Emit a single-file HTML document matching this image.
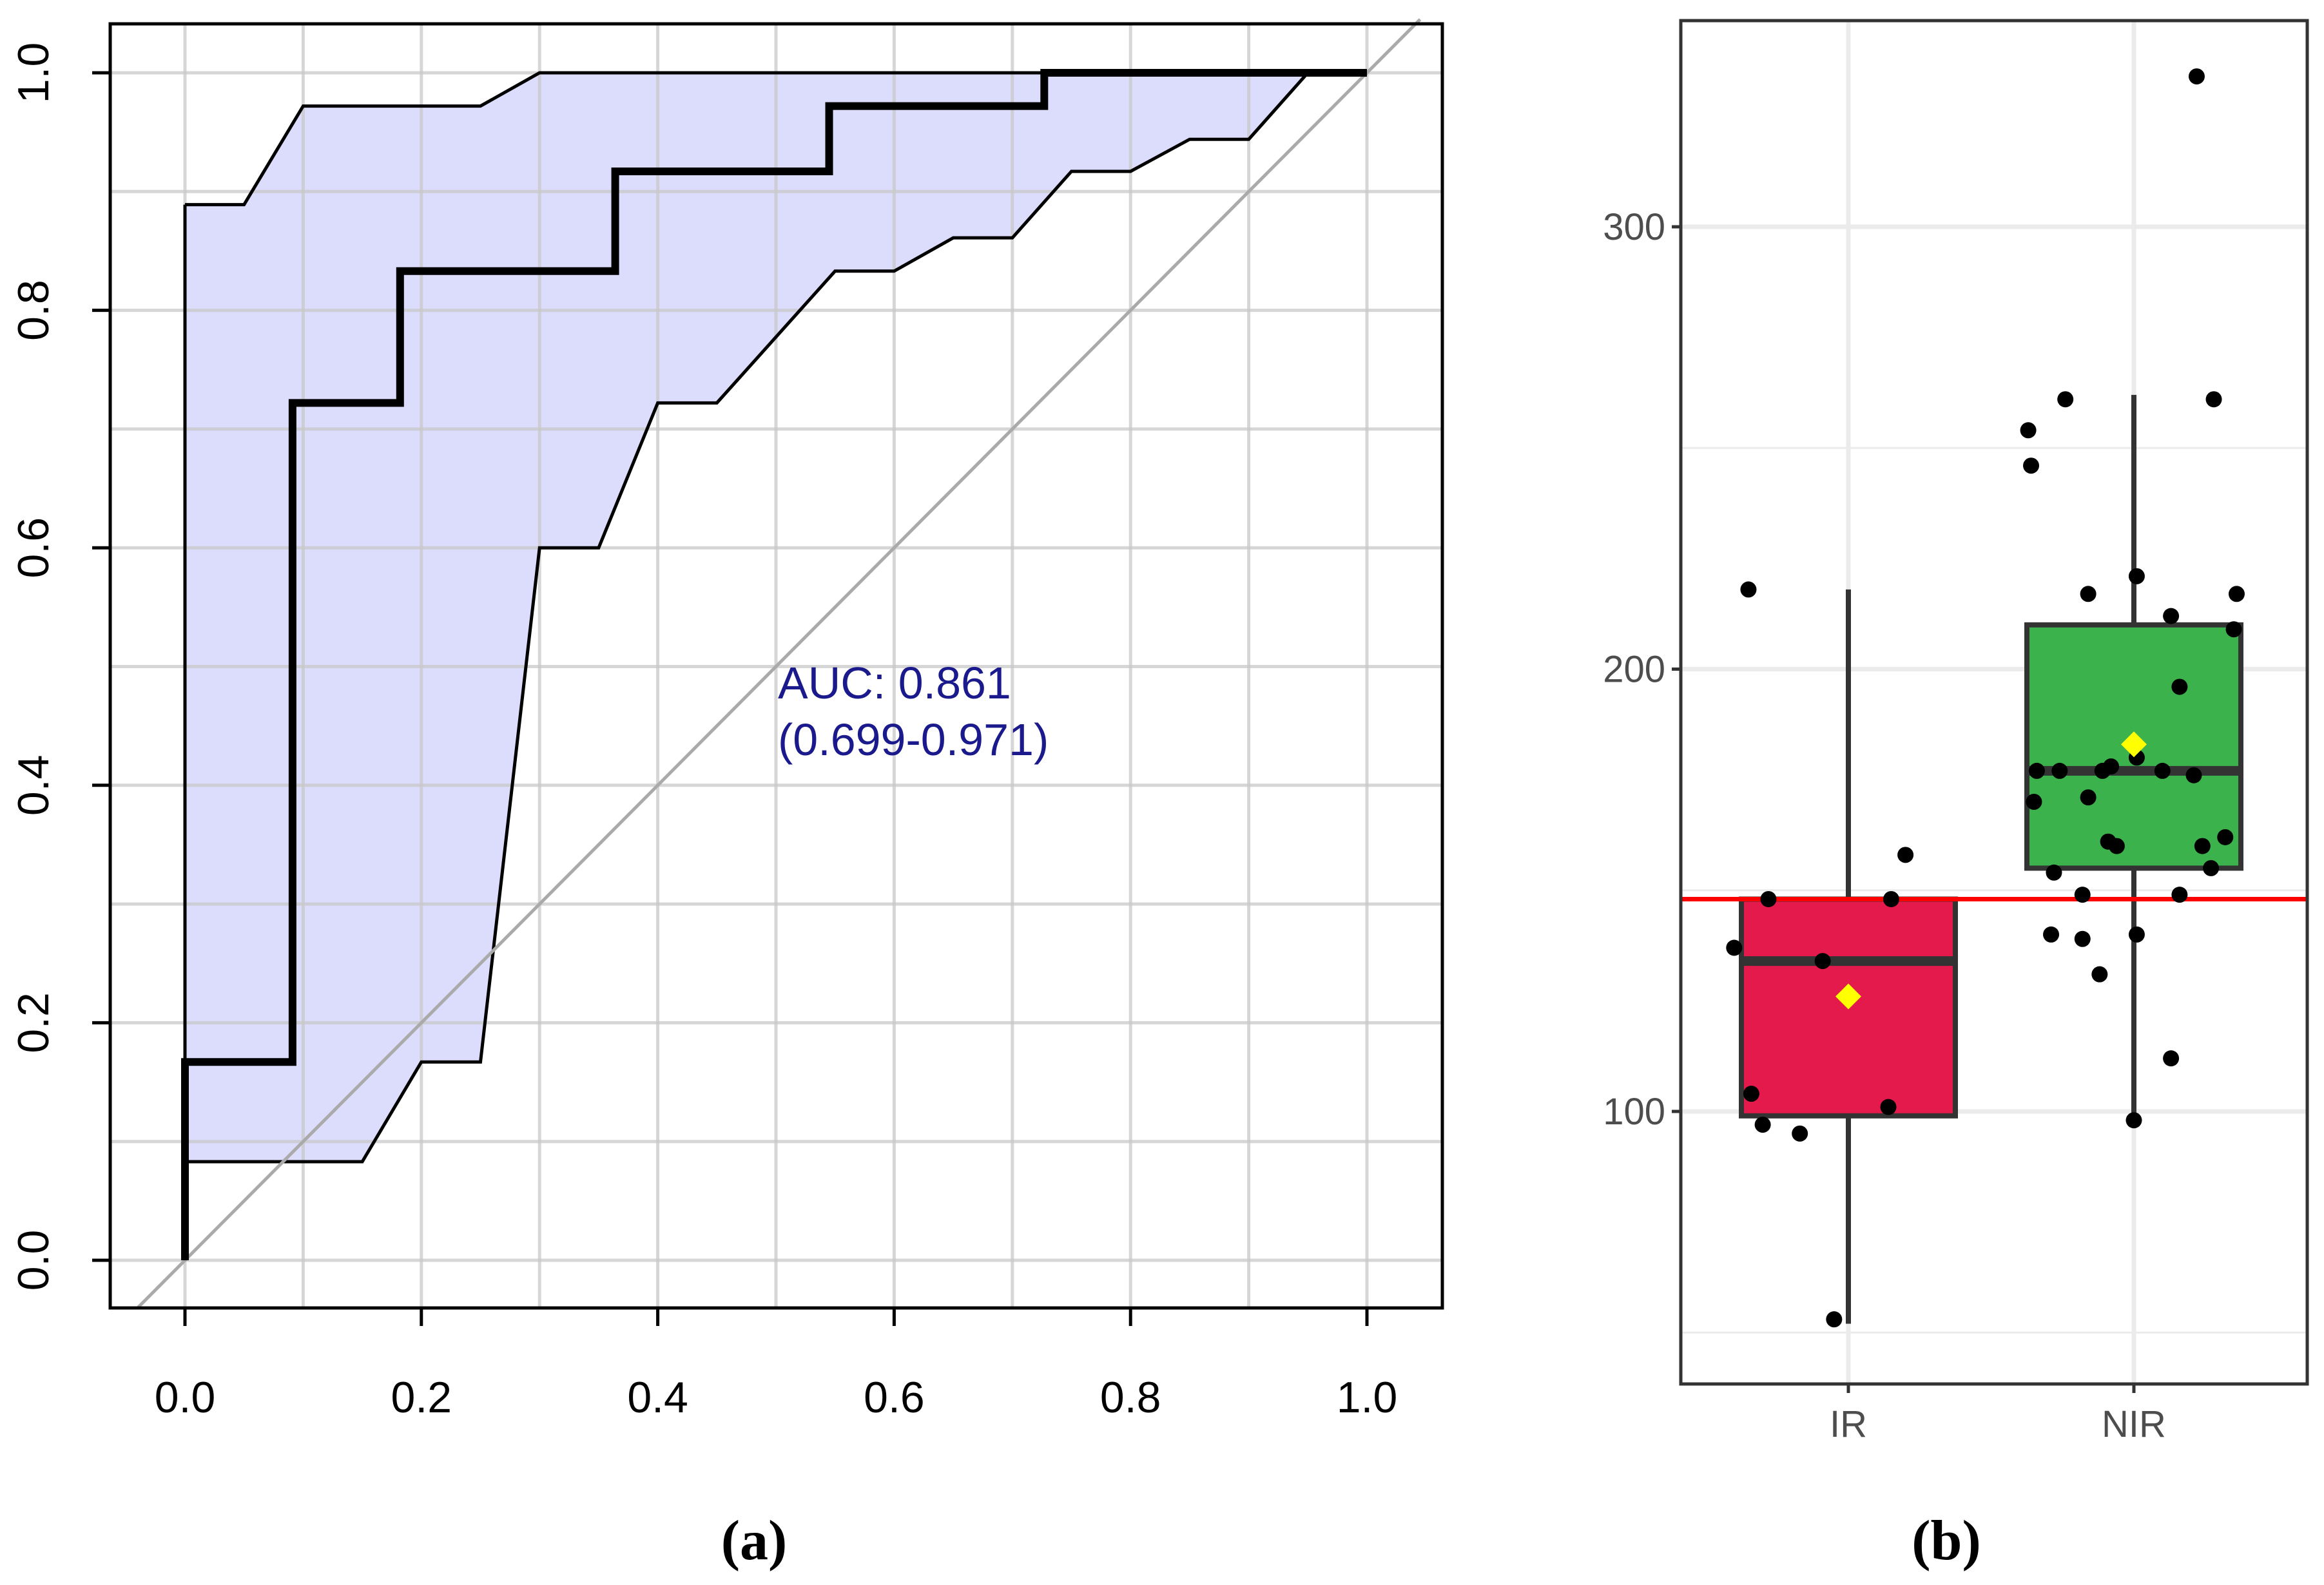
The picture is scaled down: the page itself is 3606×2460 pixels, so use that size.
<!DOCTYPE html>
<html><head><meta charset="utf-8">
<style>html,body{margin:0;padding:0;background:#fff}svg{display:block}</style>
</head><body>
<svg id="c" width="3606" height="2460" viewBox="0 0 3606 2460" xmlns="http://www.w3.org/2000/svg" font-family="Liberation Sans, sans-serif">
<g id="pa"></g>
<g id="pb"></g>
<text x="1170" y="2420" font-family="Liberation Serif, serif" font-weight="bold" font-size="88" text-anchor="middle">(a)</text>
<text x="3020" y="2420" font-family="Liberation Serif, serif" font-weight="bold" font-size="88" text-anchor="middle">(b)</text>
</svg>
<script>
// ROC data
const rocX = [0,0,0.091,0.091,0.182,0.182,0.364,0.364,0.545,0.545,0.727,0.727,1];
const rocY = [0,0.167,0.167,0.722,0.722,0.833,0.833,0.917,0.917,0.972,0.972,1,1];
const ciUpX = [0,0.05,0.1,0.25,0.3,1];
const ciUpY = [0.889,0.889,0.972,0.972,1,1];
const ciLoX = [0,0.15,0.2,0.25,0.3,0.35,0.4,0.45,0.55,0.6,0.65,0.7,0.75,0.8,0.85,0.9,0.95,1];
const ciLoY = [0.083,0.083,0.167,0.167,0.6,0.6,0.722,0.722,0.833,0.833,0.861,0.861,0.917,0.917,0.944,0.944,1,1];
const rocTicks = [0,0.2,0.4,0.6,0.8,1.0];
const rocTickLabels = ["0.0","0.2","0.4","0.6","0.8","1.0"];
// Boxplot data
const groups = ["IR","NIR"];
const q1 = [99,155], med = [134,177], q3 = [148,210], wLo = [52,98], wHi = [218,262], means = [126,183];
const groupFill = ["#e31a4b","#3bb24c"];
const cutoff = 148;
const bTicks = [100,200,300];
const irVals = [218,137,148,134,148,158,104,97,95,101,53];
const irJit = [-0.35,-0.40,-0.28,-0.09,0.15,0.20,-0.34,-0.30,-0.17,0.14,-0.05];
const nirVals = [254,246,261,261,334,217,221,212,217,209,196,177,177,170,177,178,183,180,177,176,171,161,160,162,160,155,154,149,149,140,139,140,131,112,98];
const nirJit = [-0.37,-0.36,-0.24,0.28,0.22,-0.16,0.01,0.13,0.36,0.35,0.16,-0.34,-0.26,-0.35,-0.11,-0.08,0,0.01,0.10,0.21,-0.16,-0.09,-0.06,0.32,0.24,0.27,-0.28,-0.18,0.16,-0.29,-0.18,0.01,-0.12,0.13,0];

const NS="http://www.w3.org/2000/svg";
function mk(parent,tag,attrs){const e=document.createElementNS(NS,tag);for(const k in attrs)e.setAttribute(k,attrs[k]);parent.appendChild(e);return e;}

// Panel A
const pa=document.getElementById('pa');
const ax=v=>287+v*1834, ay=v=>1956-v*1843;
const L=171,R=2238,T=37,B=2030;
let e;
e=mk(pa,'rect',{x:L,y:T,width:R-L,height:B-T,fill:'#fff'});


let pts=[];
for(let i=0;i<ciUpX.length;i++)pts.push(ax(ciUpX[i])+','+ay(ciUpY[i]));
for(let i=ciLoX.length-1;i>=0;i--)pts.push(ax(ciLoX[i])+','+ay(ciLoY[i]));
e=mk(pa,'polygon',{points:pts.join(' '),fill:'#dcdcfc',stroke:'none'});


for(let k=-1;k<=12;k++){const v=k/10;const x=ax(v),y=ay(v);
 if(x>L&&x<R){e=mk(pa,'line',{x1:x,y1:T,x2:x,y2:B,stroke:'#c8c8c8','stroke-opacity':0.75,'stroke-width':5});
 
 }
 if(y>T&&y<B){e=mk(pa,'line',{x1:L,y1:y,x2:R,y2:y,stroke:'#c8c8c8','stroke-opacity':0.75,'stroke-width':5});
 
 }}
e=mk(pa,'polyline',{points:ciUpX.map((v,i)=>ax(v)+','+ay(ciUpY[i])).join(' '),fill:'none',stroke:'#000','stroke-width':5});


e=mk(pa,'polyline',{points:ciLoX.map((v,i)=>ax(v)+','+ay(ciLoY[i])).join(' '),fill:'none',stroke:'#000','stroke-width':5});


e=mk(pa,'line',{x1:ax(0),y1:ay(0.083),x2:ax(0),y2:ay(0.889),stroke:'#000','stroke-width':5});


e=mk(pa,'line',{x1:ax(-0.04),y1:ay(-0.04),x2:ax(1.045),y2:ay(1.045),stroke:'#aaa','stroke-width':5});


e=mk(pa,'polyline',{points:rocX.map((v,i)=>ax(v)+','+ay(rocY[i])).join(' '),fill:'none',stroke:'#000','stroke-width':12,'stroke-linejoin':'miter'});


e=mk(pa,'rect',{x:L,y:T,width:R-L,height:B-T,fill:'none',stroke:'#000','stroke-width':5});


rocTicks.forEach((v,i)=>{
 e=mk(pa,'line',{x1:ax(v),y1:B,x2:ax(v),y2:B+28,stroke:'#000','stroke-width':5});
 
 
 e=mk(pa,'text',{x:ax(v),y:2192,'font-size':68,'text-anchor':'middle',fill:'#000'});e.textContent=rocTickLabels[i];
 
 
 e=mk(pa,'line',{x1:L-28,y1:ay(v),x2:L,y2:ay(v),stroke:'#000','stroke-width':5});
 
 
 e=mk(pa,'text',{x:0,y:0,'font-size':68,'text-anchor':'middle',fill:'#000',transform:`translate(75,${ay(v)}) rotate(-90)`});e.textContent=rocTickLabels[i];
 
 
});
e=mk(pa,'text',{x:1207,y:1084,'font-size':70,fill:'#1a1a8c'});e.textContent='AUC: 0.861';


e=mk(pa,'text',{x:1207,y:1172,'font-size':70,fill:'#1a1a8c'});e.textContent='(0.699-0.971)';



// Panel B
const pb=document.getElementById('pb');
const BL=2608,BR=3580,BT=32,BB=2148;
const bx=i=>2868+i*443, by=v=>1725-(v-100)*6.865;
const hw=166;
for(const v of [50,150,250]){e=mk(pb,'line',{x1:BL,y1:by(v),x2:BR,y2:by(v),stroke:'#ebebeb','stroke-width':3});
 
 }
for(const v of bTicks){e=mk(pb,'line',{x1:BL,y1:by(v),x2:BR,y2:by(v),stroke:'#ebebeb','stroke-width':7});
 
 }
groups.forEach((g,i)=>{e=mk(pb,'line',{x1:bx(i),y1:BT,x2:bx(i),y2:BB,stroke:'#ebebeb','stroke-width':7});
 
 });
groups.forEach((g,i)=>{
 e=mk(pb,'line',{x1:bx(i),y1:by(wLo[i]),x2:bx(i),y2:by(wHi[i]),stroke:'#333','stroke-width':8});
 
 
 e=mk(pb,'rect',{x:bx(i)-hw,y:by(q3[i]),width:2*hw,height:by(q1[i])-by(q3[i]),fill:groupFill[i],stroke:'#333','stroke-width':8});
 
 
 e=mk(pb,'line',{x1:bx(i)-hw,y1:by(med[i]),x2:bx(i)+hw,y2:by(med[i]),stroke:'#333','stroke-width':15});
 
 
});
e=mk(pb,'line',{x1:BL,y1:by(cutoff),x2:BR,y2:by(cutoff),stroke:'#ff0000','stroke-width':7});


[[irVals,irJit,0],[nirVals,nirJit,1]].forEach(([vals,jit,gi])=>{
 vals.forEach((v,k)=>{e=mk(pb,'circle',{cx:bx(gi)+jit[k]*443,cy:by(v),r:12.5,fill:'#000'});
 
 });
});
groups.forEach((g,i)=>{const cx=bx(i),cy=by(means[i]);
 e=mk(pb,'polygon',{points:`${cx},${cy-20} ${cx+20},${cy} ${cx},${cy+20} ${cx-20},${cy}`,fill:'#ffff00'});
 
 
});
e=mk(pb,'rect',{x:BL,y:BT,width:BR-BL,height:BB-BT,fill:'none',stroke:'#333','stroke-width':5});


bTicks.forEach(v=>{
 e=mk(pb,'line',{x1:BL-14,y1:by(v),x2:BL,y2:by(v),stroke:'#333','stroke-width':5});
 
 
 e=mk(pb,'text',{x:BL-24,y:by(v)+20,'font-size':58,'text-anchor':'end',fill:'#4d4d4d'});e.textContent=String(v);
 
 
});
groups.forEach((g,i)=>{
 e=mk(pb,'line',{x1:bx(i),y1:BB,x2:bx(i),y2:BB+14,stroke:'#333','stroke-width':5});
 
 
 e=mk(pb,'text',{x:bx(i),y:2230,'font-size':58,'text-anchor':'middle',fill:'#4d4d4d'});e.textContent=g;
 
 
});
</script>
</body></html>
